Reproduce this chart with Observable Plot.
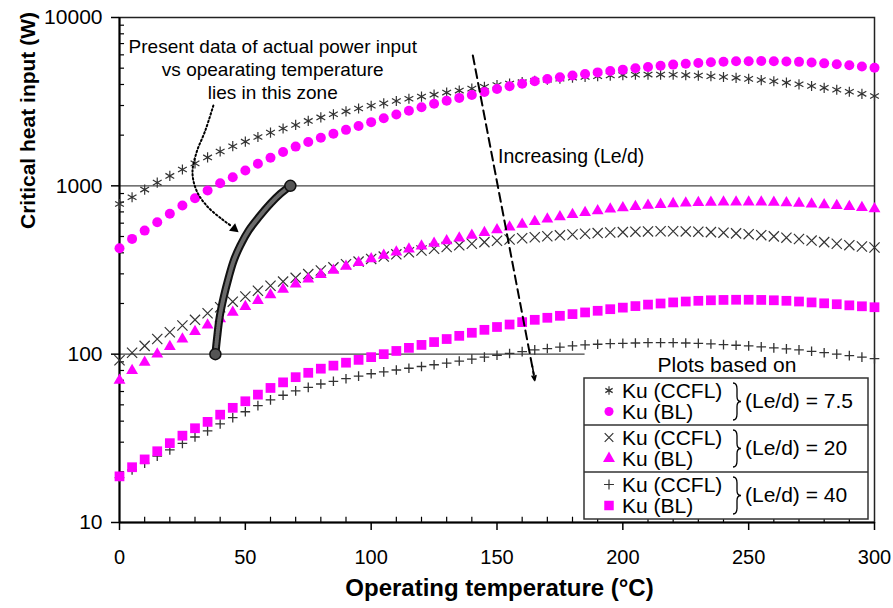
<!DOCTYPE html>
<html><head><meta charset="utf-8">
<script src="https://cdn.jsdelivr.net/npm/d3@7"></script>
<script src="https://cdn.jsdelivr.net/npm/@observablehq/plot@0.6"></script>
<style>body{margin:0;background:#fff;} #chart{width:893px;height:608px;}</style>
</head><body><div id="chart"></div>
<script>
// ---------- data ----------
const temps = [0,5,10,15,20,25,30,35,40,45,50,55,60,65,70,75,80,85,90,95,100,105,110,115,120,125,130,135,140,145,150,155,160,165,170,175,180,185,190,195,200,205,210,215,220,225,230,235,240,245,250,255,260,265,270,275,280,285,290,295,300];

// Ku (CCFL), Le/d = 7.5
const ccfl75 = [780,855,950,1045,1145,1250,1360,1475,1600,1720,1830,1950,2070,2190,2300,2430,2550,2660,2770,2880,2990,3090,3190,3290,3390,3480,3580,3680,3780,3880,3970,4050,4130,4200,4270,4330,4390,4440,4480,4520,4550,4570,4580,4580,4570,4550,4520,4480,4430,4380,4320,4250,4180,4100,4010,3920,3820,3720,3620,3520,3420];
// Ku (BL), Le/d = 7.5
const bl75 = [426,484,542,608,682,764,843,938,1037,1125,1234,1352,1470,1590,1710,1820,1930,2040,2150,2265,2390,2520,2650,2790,2930,3070,3200,3330,3460,3610,3760,3900,4040,4180,4310,4420,4520,4620,4720,4810,4900,4990,5080,5170,5250,5310,5370,5420,5460,5490,5500,5510,5500,5480,5450,5400,5340,5270,5200,5120,5030];
// Ku (CCFL), Le/d = 20
const ccfl20 = [92,102,112,123,135,148,160,175,190,205,220,238,255,270,284,299,314,328,342,355,368,380,392,403,413,423,433,443,453,463,472,480,488,495,502,508,514,519,524,528,531,534,536,537,537,536,534,531,527,522,516,509,501,492,483,473,463,453,444,436,430];
// Ku (BL), Le/d = 20
const bl20 = [70,80,89.5,100,111,123,136,149,162,177,192,208,225,243,261,279,297,315,332,350,368,386,404,421,438,455,472,490,508,527,547,569,591,613,634,655,675,694,711,727,741,754,765,775,783,789,794,798,800,801,801,800,797,793,787,780,772,763,753,742,731];
// Ku (CCFL), Le/d = 40
const ccfl40 = [18.5,20.5,22.5,24.8,27,29.5,32.2,35,38.5,42,45.5,49.5,53.5,57,60.5,63.5,66.5,69,71.5,74,76.5,78.5,80.5,82.5,84.5,86.5,88.5,91,93.5,96,98.5,101,103.5,106,108,110,112,113.5,114.5,115.5,116,116.5,117,117,117,116.5,116,115,114,113,112,110.5,109,107.5,106,104,102,100,98,96,94];
// Ku (BL), Le/d = 40
const bl40 = [18.8,21.3,23.7,26.5,29.6,32.8,36.3,39.6,43.7,48,52.5,57.5,63,68,73,77.5,82,85.5,89,92.5,96,100,104.5,109,113.5,118,123,128.5,134,139.5,145,150,155,160,164.5,169,173,177,181,185,189,193,197,200,203,205.5,207.5,209,210,210.5,210.5,210,209,207.5,205.5,203,200.5,198,195,192.5,190];

// present data of actual power input vs operating temperature
const presentT = [38.1,38.8,39.8,41.4,43.4,45.4,48,51.3,55.3,59.9,63.9,67.9];
const presentW = [100,126,166,218,286,360,442,542,650,782,896,1000];

// reference lines
const refLevels = [1000, 100];
const refEnds = [300, 185];

// axis ticks
const xTicks = [0,50,100,150,200,250,300];
const xMinor = [10,20,30,40,60,70,80,90,110,120,130,140,160,170,180,190,210,220,230,240,260,270,280,290];
const yTicks = [10,100,1000,10000];
const yMinor = [20,30,40,50,60,70,80,90,200,300,400,500,600,700,800,900,2000,3000,4000,5000,6000,7000,8000,9000];

// annotations
const annoText = "Present data of actual power input\nvs opearating temperature\nlies in this zone";
const annoT = 60.9, annoW = 4955;
const incText = "Increasing (Le/d)";
const incT = 150.4, incW = 1479;
const dashT = [140.4, 164.6];
const dashW = [5950, 76];
const dashHeadT = [164.0, 165];
const dashHeadW = [86, 69.7];
const dotT = [37.3, 34.1, 30.6, 29.0, 30.6, 34.9, 40.9, 44.6];
const dotW = [3000, 2131, 1577, 1200, 938, 754, 631, 575];
const dotHead = {t: 45.6, w: 556};

// legend
const legendTitle = "Plots based on";
const legendSeries = ["Ku (CCFL)", "Ku (BL)"];
const legendRatios = ["(Le/d) = 7.5", "(Le/d) = 20", "(Le/d) = 40"];

const xLabel = "Operating temperature (\u00B0C)";
const yLabel = "Critical heat input (W)";

// ---------- build ----------
const MAG = "#ff00ff";
const INK = "#333";
const rows = (vals) => temps.map((t, i) => ({t, w: vals[i]}));
const refRows = refLevels.map((w, i) => ({w, end: refEnds[i]}));
const presentRows = presentT.map((t, i) => ({t, w: presentW[i]}));
const dashRows = dashT.map((t, i) => ({t, w: dashW[i]}));
const dotRows = dotT.map((t, i) => ({t, w: dotW[i]}));
const FONT = "'Liberation Sans', Arial, Helvetica, sans-serif";

const svg = Plot.plot({
  width: 893, height: 608,
  marginLeft: 119, marginRight: 19, marginTop: 17, marginBottom: 86,
  style: {fontFamily: FONT, fontSize: "20px", color: "#000", background: "#fff"},
  x: {domain: [0, 300]},
  y: {type: "log", domain: [10, 10000]},
  marks: [
    Plot.ruleY(refRows, {y: "w", x1: () => 0, x2: "end", stroke: "#444", strokeWidth: 1.3}),
    Plot.ruleY(yMinor, {y: d => d, x1: () => 0, x2: () => 2, stroke: "#000", strokeWidth: 1.2}),
    Plot.ruleX(xMinor, {x: d => d, y1: () => 10, y2: () => 10.75, stroke: "#000", strokeWidth: 1.2}),
    Plot.frame({stroke: "#222", strokeWidth: 1.5}),
    Plot.ruleX([0], {stroke: "#000", strokeWidth: 2}),
    Plot.ruleY([10], {stroke: "#000", strokeWidth: 2}),
    Plot.axisY({ticks: yTicks, tickFormat: d => String(d), tickSize: 8, tickPadding: 9, fontSize: 21, label: null, strokeWidth: 1.5}),
    Plot.axisX({ticks: xTicks, tickFormat: d => String(d), tickSize: 8, tickPadding: 19, fontSize: 20, label: null, strokeWidth: 1.5}),
    Plot.text([yLabel], {frameAnchor: "left", dx: -91, dy: -41, rotate: -90, fontSize: 21, fontWeight: "bold"}),
    Plot.text([xLabel], {frameAnchor: "bottom", dx: 2.5, dy: 73, fontSize: 24, fontWeight: "bold"}),
    // CCFL (black symbols)
    Plot.dot(rows(ccfl75), {x: "t", y: "w", symbol: "asterisk", r: 4.8, stroke: INK, strokeWidth: 1.2}),
    Plot.dot(rows(ccfl20), {x: "t", y: "w", symbol: "times", r: 4.7, stroke: INK, strokeWidth: 1.2}),
    Plot.dot(rows(ccfl40), {x: "t", y: "w", symbol: "plus", r: 3.2, stroke: INK, strokeWidth: 1.3}),
    // BL (magenta)
    Plot.dot(rows(bl75), {x: "t", y: "w", symbol: "circle", r: 5, fill: MAG}),
    Plot.dot(rows(bl20), {x: "t", y: "w", symbol: "triangle", r: 4.4, fill: MAG}),
    Plot.dot(rows(bl40), {x: "t", y: "w", symbol: "square", r: 5.5, fill: MAG}),
    // present data
    Plot.line(presentRows, {x: "t", y: "w", curve: "catmull-rom", stroke: "#111", strokeWidth: 8, strokeLinecap: "round"}),
    Plot.line(presentRows, {x: "t", y: "w", curve: "catmull-rom", stroke: "#6a6a6a", strokeWidth: 4, strokeDasharray: "1.2 1.2"}),
    Plot.dot([presentRows[0], presentRows[presentRows.length - 1]], {x: "t", y: "w", r: 5.5, fill: "#555", stroke: "#111", strokeWidth: 1.5}),
    // annotations
    Plot.line(dotRows, {x: "t", y: "w", curve: "catmull-rom", stroke: "#000", strokeWidth: 2, strokeDasharray: "1.6 2.4"}),
    Plot.dot([dotHead], {x: "t", y: "w", symbol: "triangle", r: 3.6, rotate: 129, fill: "#000"}),
    Plot.line(dashRows, {x: "t", y: "w", stroke: "#000", strokeWidth: 2, strokeDasharray: "9 5"}),
    Plot.arrow([{x1: dashHeadT[0], y1: dashHeadW[0], x2: dashHeadT[1], y2: dashHeadW[1]}], {x1: "x1", y1: "y1", x2: "x2", y2: "y2", stroke: "#000", strokeWidth: 1.6, headLength: 11, headAngle: 45}),
    Plot.text([{t: annoT, w: annoW, text: annoText}], {x: "t", y: "w", text: "text", fontSize: 19, lineHeight: 1.21}),
    Plot.text([{t: incT, w: incW, text: incText}], {x: "t", y: "w", text: "text", textAnchor: "start", fontSize: 19.5})
  ]
});
document.getElementById("chart").appendChild(svg);

// ---------- legend ----------
const sv = d3.select(svg);
const lg = sv.append("g").attr("font-family", FONT).attr("font-size", 21).attr("fill", "#000").attr("text-anchor", "start");
lg.append("text").attr("x", 727).attr("y", 365).attr("dy", "0.35em").attr("text-anchor", "middle").text(legendTitle);
lg.append("rect").attr("x", 584).attr("y", 378).attr("width", 284).attr("height", 141)
  .attr("fill", "#fff").attr("stroke", "#333").attr("stroke-width", 1.5);
[425, 472].forEach(y => lg.append("line").attr("x1", 584).attr("x2", 868).attr("y1", y).attr("y2", y).attr("stroke", "#333").attr("stroke-width", 1.5));
const legendSym = [
  [{t: d3.symbolAsterisk, s: 50, stroke: true}, {t: d3.symbolCircle, s: 64, stroke: false}],
  [{t: d3.symbolTimes, s: 50, stroke: true}, {t: d3.symbolTriangle, s: 62, stroke: false}],
  [{t: d3.symbolPlus, s: 34, stroke: true}, {t: d3.symbolSquare, s: 90, stroke: false}]
];
legendRatios.forEach((lab, i) => {
  const top = 378 + 47 * i;
  const ys = [top + 12.5, top + 33.5];
  ys.forEach((y, j) => {
    const sym = legendSym[i][j];
    const p = lg.append("path").attr("d", d3.symbol(sym.t, sym.s)()).attr("transform", `translate(609,${y})`);
    if (sym.stroke) p.attr("fill", "none").attr("stroke", INK).attr("stroke-width", 1.2);
    else p.attr("fill", MAG);
    lg.append("text").attr("x", 622).attr("y", y).attr("dy", "0.35em").attr("text-anchor", "start").text(legendSeries[j]);
  });
  const bx = 733, yT = top + 5, yB = top + 42, yM = (yT + yB) / 2, w = 4;
  lg.append("path").attr("fill", "none").attr("stroke", "#000").attr("stroke-width", 1.3)
    .attr("d", `M${bx},${yT} Q${bx + w},${yT} ${bx + w},${yT + 6} L${bx + w},${yM - 5} Q${bx + w},${yM} ${bx + 2 * w},${yM} Q${bx + w},${yM} ${bx + w},${yM + 5} L${bx + w},${yB - 6} Q${bx + w},${yB} ${bx},${yB}`);
  lg.append("text").attr("x", 745).attr("y", top + 22.5).attr("dy", "0.35em").attr("text-anchor", "start").text(lab);
});
</script>
</body></html>
